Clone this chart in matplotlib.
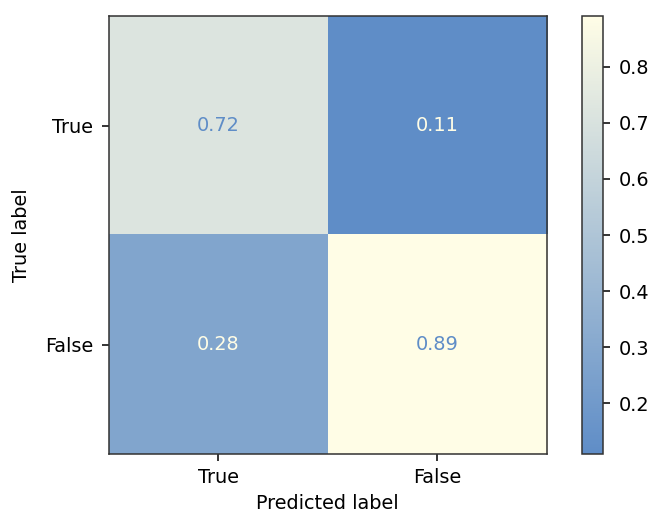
import numpy as np
import matplotlib
matplotlib.use("Agg")
import matplotlib.pyplot as plt
from matplotlib.colors import LinearSegmentedColormap

# confusion matrix values (normalized)
labels = ["True", "False"]
cm = np.array([
    [0.72, 0.11],
    [0.28, 0.89],
])
cbar_ticks = [0.2, 0.3, 0.4, 0.5, 0.6, 0.7, 0.8]

cmap = LinearSegmentedColormap.from_list("blue_yellow", ["#5f8dc7", "#fffde6"])

# everything scaled ~1.39x from matplotlib defaults
s = 1.39
plt.rcParams.update({
    "font.size": 10 * s,
    "axes.linewidth": 0.8 * s,
    "xtick.major.size": 3.5 * s,
    "ytick.major.size": 3.5 * s,
    "xtick.major.width": 0.8 * s,
    "ytick.major.width": 0.8 * s,
    "xtick.major.pad": 3.5 * s,
    "ytick.major.pad": 3.5 * s + 1.2,
    "axes.labelpad": 4 * s,
})

fig = plt.figure(figsize=(6.48, 5.15), dpi=100)
ax = fig.add_axes([0.1667, 0.1184, 0.6775, 0.8505])
cax = fig.add_axes([0.898, 0.1184, 0.033, 0.8505])

im = ax.imshow(cm, cmap=cmap, interpolation="nearest")

# text colour flips around the middle of the range, like sklearn's display
thresh = (cm.max() + cm.min()) / 2.0
for i in range(cm.shape[0]):
    for j in range(cm.shape[1]):
        color = cmap(0.0) if cm[i, j] > thresh else cmap(1.0)
        ax.text(j, i, f"{cm[i, j]:.2g}", ha="center", va="center", color=color)

ax.set_xticks(range(len(labels)))
ax.set_yticks(range(len(labels)))
ax.set_xticklabels(labels)
ax.set_yticklabels(labels)
ax.set_xlabel("Predicted label")
ax.set_ylabel("True label", labelpad=10)
for sp in ax.spines.values():
    sp.set_color("#333333")

cb = fig.colorbar(im, cax=cax)
cb.set_ticks(cbar_ticks)
cb.outline.set_edgecolor("#333333")

fig.savefig("out.png", dpi=100)
